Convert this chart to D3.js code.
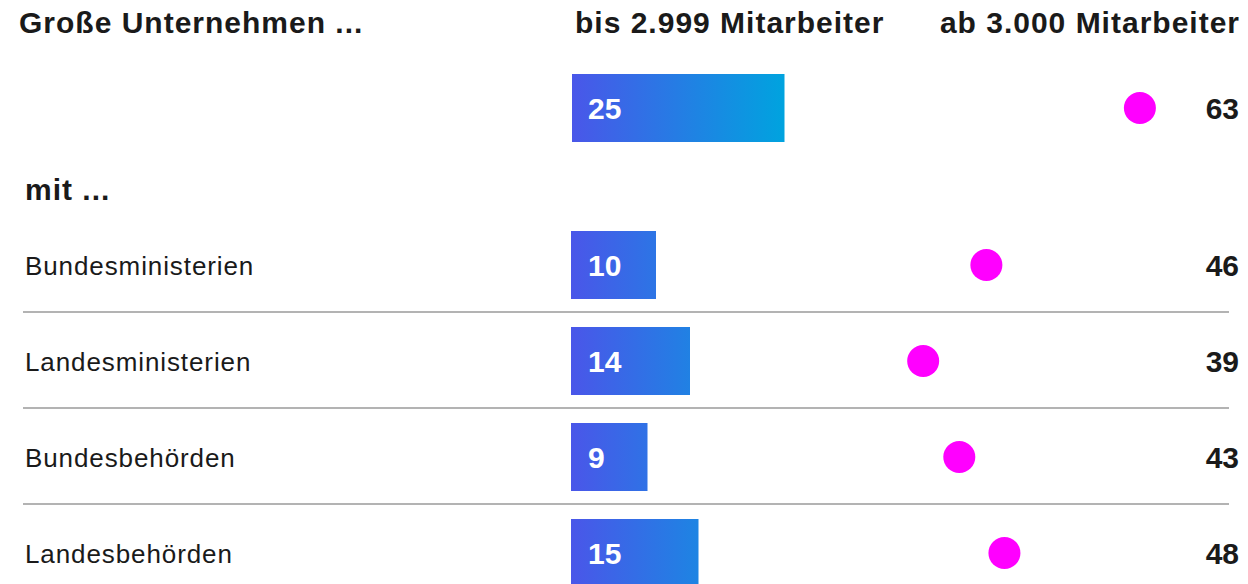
<!DOCTYPE html>
<html lang="de">
<head>
<meta charset="UTF-8">
<title>Große Unternehmen</title>
<script src="https://cdn.jsdelivr.net/npm/d3@7"></script>
<style>
  * { margin: 0; padding: 0; box-sizing: border-box; }
  body { background: #fff; font-family: 'Liberation Sans', Arial, sans-serif; color: #1a1a1a; }
  .hd { font-size: 30px; font-weight: bold; letter-spacing: 1px; fill: #1a1a1a; }
  .lbl { font-size: 26px; letter-spacing: 0.9px; fill: #1a1a1a; }
  .val { font-size: 30px; font-weight: bold; fill: #1a1a1a; }
  .barval { font-size: 30px; font-weight: bold; fill: #fff; }
</style>
</head>
<body>
<svg id="chart" width="1248" height="584"></svg>
<script>
// data
const totalLabel = 'Große Unternehmen ...';
const totalSmall = 25;   // bis 2.999 Mitarbeiter
const totalLarge = 63;   // ab 3.000 Mitarbeiter

const categories  = ['Bundesministerien', 'Landesministerien', 'Bundesbehörden', 'Landesbehörden'];
const smallValues = [10, 14, 9, 15];
const largeValues = [46, 39, 43, 48];

const colHeaders = ['bis 2.999 Mitarbeiter', 'ab 3.000 Mitarbeiter'];

// layout
const svg = d3.select('#chart');
const x0 = 571;
const xBar = d3.scaleLinear().domain([0, 100]).range([x0, x0 + 850]);
const xDot = d3.scaleLinear().domain([0, 100]).range([x0, x0 + 903]);
const rowY = d3.scalePoint().domain(categories).range([265, 553]);
const barH = 68;
const valRight = 1239;

const defs = svg.append('defs');
const grad = defs.append('linearGradient')
  .attr('id', 'barGrad')
  .attr('gradientUnits', 'userSpaceOnUse')
  .attr('x1', xBar(0)).attr('x2', xBar(totalSmall))
  .attr('y1', 0).attr('y2', 0);
grad.append('stop').attr('offset', '0%').attr('stop-color', '#4a56e9');
grad.append('stop').attr('offset', '100%').attr('stop-color', '#00a3df');

// headers
svg.append('text').attr('class', 'hd').attr('x', 19).attr('y', 33).text(totalLabel);
svg.append('text').attr('class', 'hd').attr('x', 575).attr('y', 33).text(colHeaders[0]);
svg.append('text').attr('class', 'hd').attr('x', 1240).attr('y', 33)
  .attr('text-anchor', 'end').text(colHeaders[1]);
svg.append('text').attr('class', 'hd').attr('x', 25).attr('y', 200).text('mit ...');

// total row
const topY = 108;
svg.append('rect')
  .attr('x', xBar(0) + 1).attr('y', topY - barH / 2)
  .attr('width', xBar(totalSmall) - xBar(0)).attr('height', barH)
  .attr('fill', 'url(#barGrad)');
svg.append('text').attr('class', 'barval')
  .attr('x', xBar(0) + 17).attr('y', topY + 11).text(totalSmall);
svg.append('circle')
  .attr('cx', xDot(totalLarge)).attr('cy', topY).attr('r', 16)
  .attr('fill', '#ff00ff');
svg.append('text').attr('class', 'val')
  .attr('x', valRight).attr('y', topY + 11)
  .attr('text-anchor', 'end').text(totalLarge);

// separators
svg.selectAll('line.sep')
  .data(categories.slice(0, -1))
  .enter().append('line')
  .attr('class', 'sep')
  .attr('x1', 23).attr('x2', 1229)
  .attr('y1', d => rowY(d) + 47).attr('y2', d => rowY(d) + 47)
  .attr('stroke', '#9a9a9a').attr('stroke-width', 1.5);

// rows
const rows = svg.selectAll('g.row')
  .data(categories.map((c, i) => ({ cat: c, small: smallValues[i], large: largeValues[i] })))
  .enter().append('g')
  .attr('class', 'row')
  .attr('transform', d => `translate(0,${rowY(d.cat)})`);

rows.append('text').attr('class', 'lbl')
  .attr('x', 25).attr('y', 10).text(d => d.cat);

rows.append('rect')
  .attr('x', xBar(0)).attr('y', -barH / 2)
  .attr('width', d => xBar(d.small) - xBar(0)).attr('height', barH)
  .attr('fill', 'url(#barGrad)');

rows.append('text').attr('class', 'barval')
  .attr('x', xBar(0) + 17).attr('y', 11).text(d => d.small);

rows.append('circle')
  .attr('cx', d => xDot(d.large)).attr('cy', 0).attr('r', 16)
  .attr('fill', '#ff00ff');

rows.append('text').attr('class', 'val')
  .attr('x', valRight).attr('y', 11)
  .attr('text-anchor', 'end').text(d => d.large);
</script>
</body>
</html>
